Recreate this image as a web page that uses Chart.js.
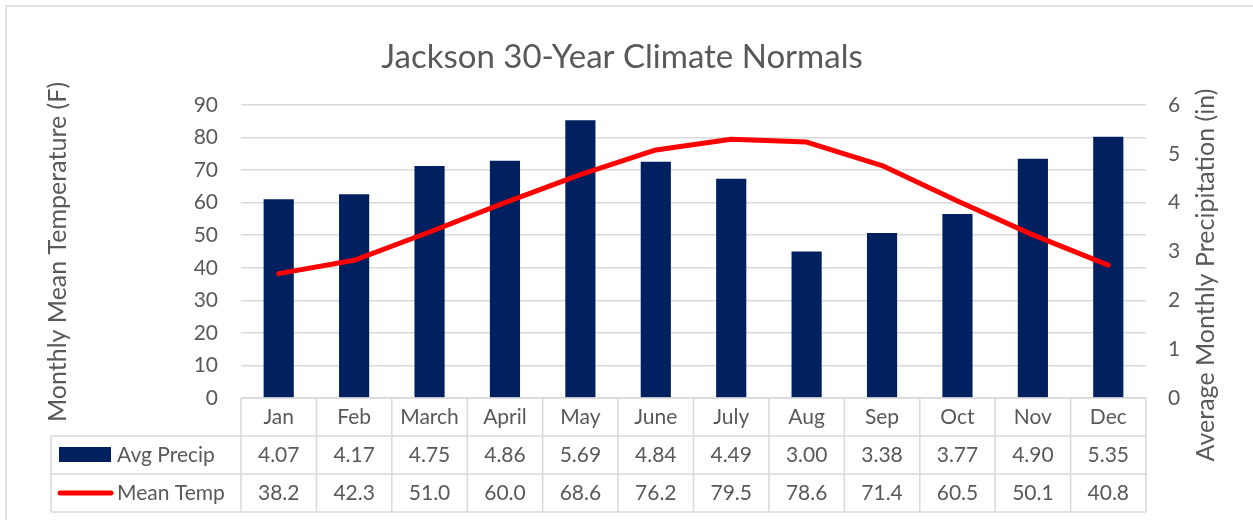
<!DOCTYPE html>
<html>
<head>
<meta charset="utf-8">
<script src="https://cdn.jsdelivr.net/npm/chart.js@4"></script>
<style>
html,body{margin:0;padding:0;background:#fff;}
#wrap{width:1253px;height:520px;}
</style>
</head>
<body>
<div id="wrap"><canvas id="c" width="1253" height="520"></canvas></div>
<script>
const months = ['Jan','Feb','March','April','May','June','July','Aug','Sep','Oct','Nov','Dec'];
const precip = [4.07, 4.17, 4.75, 4.86, 5.69, 4.84, 4.49, 3.00, 3.38, 3.77, 4.90, 5.35];
const temp = [38.2, 42.3, 51.0, 60.0, 68.6, 76.2, 79.5, 78.6, 71.4, 60.5, 50.1, 40.8];
const precipLabel = 'Avg Precip';
const tempLabel = 'Mean Temp';
const titleText = 'Jackson 30-Year Climate Normals';
const leftTitle = 'Monthly Mean Temperature (F)';
const rightTitle = 'Average Monthly Precipitation (in)';

const TXT = '#595959';
const GRID = '#d9d9d9';
const FONT = 'Lato';
const BLUE = '#002060';
const RED = '#ff0000';

const decor = {
  id: 'decor',
  beforeDraw(chart) {
    const ctx = chart.ctx;
    ctx.save();
    ctx.fillStyle = '#fff';
    ctx.fillRect(0, 0, chart.width, chart.height);
    ctx.strokeStyle = GRID;
    ctx.lineWidth = 1.5;
    ctx.strokeRect(6, 6, chart.width + 10, chart.height + 10);
    ctx.fillStyle = TXT;
    ctx.font = '33px ' + FONT;
    ctx.textAlign = 'center';
    ctx.textBaseline = 'alphabetic';
    ctx.fillText(titleText, 622, 68);
    ctx.font = '25px ' + FONT;
    ctx.textBaseline = 'middle';
    ctx.save();
    ctx.translate(58, 252);
    ctx.rotate(-Math.PI / 2);
    ctx.fillText(leftTitle, 0, 0);
    ctx.restore();
    ctx.save();
    ctx.translate(1206, 275);
    ctx.rotate(-Math.PI / 2);
    ctx.fillText(rightTitle, 0, 0);
    ctx.restore();
    ctx.restore();
  },
  afterDraw(chart) {
    const ctx = chart.ctx;
    const xs = chart.scales.x;
    const area = chart.chartArea;
    const n = months.length;
    const cw = (area.right - area.left) / n;
    const rowH = 38;
    const top = area.bottom;
    const headLeft = 51;
    ctx.save();
    ctx.strokeStyle = GRID;
    ctx.lineWidth = 1.5;
    ctx.beginPath();
    ctx.moveTo(area.left, top); ctx.lineTo(area.right, top);
    for (let r = 1; r <= 3; r++) {
      ctx.moveTo(headLeft, top + r * rowH); ctx.lineTo(area.right, top + r * rowH);
    }
    for (let i = 0; i <= n; i++) {
      const x = area.left + i * cw;
      ctx.moveTo(x, top); ctx.lineTo(x, top + 3 * rowH);
    }
    ctx.moveTo(headLeft, top + rowH); ctx.lineTo(headLeft, top + 3 * rowH);
    ctx.stroke();

    ctx.fillStyle = TXT;
    ctx.font = '21px ' + FONT;
    ctx.textAlign = 'center';
    ctx.textBaseline = 'middle';
    for (let i = 0; i < n; i++) {
      const cx = xs.getPixelForValue(i);
      ctx.fillText(months[i], cx, top + rowH * 0.5);
      ctx.fillText(precip[i].toFixed(2), cx, top + rowH * 1.5);
      ctx.fillText(temp[i].toFixed(1), cx, top + rowH * 2.5);
    }
    ctx.fillStyle = BLUE;
    ctx.fillRect(59, top + rowH * 1.5 - 8, 52, 15);
    ctx.strokeStyle = RED;
    ctx.lineWidth = 5;
    ctx.lineCap = 'round';
    ctx.beginPath();
    ctx.moveTo(60, top + rowH * 2.5); ctx.lineTo(111, top + rowH * 2.5);
    ctx.stroke();
    ctx.fillStyle = TXT;
    ctx.textAlign = 'left';
    ctx.fillText(precipLabel, 117, top + rowH * 1.5);
    ctx.fillText(tempLabel, 117, top + rowH * 2.5);
    ctx.restore();
  }
};

new Chart(document.getElementById('c'), {
  type: 'bar',
  data: {
    labels: months,
    datasets: [
      {
        type: 'line', label: tempLabel, data: temp, yAxisID: 'y',
        borderColor: RED, backgroundColor: RED, borderWidth: 5, pointRadius: 0,
        borderCapStyle: 'round', borderJoinStyle: 'round', tension: 0, order: 0
      },
      {
        type: 'bar', label: precipLabel, data: precip, yAxisID: 'y1',
        backgroundColor: BLUE, barPercentage: 0.4, categoryPercentage: 1, order: 1
      }
    ]
  },
  options: {
    responsive: false,
    animation: false,
    devicePixelRatio: 1,
    layout: { padding: { top: 105, bottom: 122, left: 0, right: 0 } },
    plugins: { legend: { display: false }, tooltip: { enabled: false }, title: { display: false } },
    scales: {
      x: { display: false, offset: true },
      y: {
        position: 'left', min: 0, max: 90,
        ticks: { stepSize: 10, color: TXT, font: { family: FONT, size: 21 }, padding: 23 },
        grid: { color: GRID, lineWidth: 1.5, drawTicks: false },
        border: { display: false },
        afterFit(s) { s.width = 241; }
      },
      y1: {
        position: 'right', min: 0, max: 6,
        ticks: { stepSize: 1, color: TXT, font: { family: FONT, size: 21 }, padding: 22 },
        grid: { drawOnChartArea: false, drawTicks: false },
        border: { display: false },
        afterFit(s) { s.width = 107; }
      }
    }
  },
  plugins: [decor]
});
</script>
</body>
</html>
